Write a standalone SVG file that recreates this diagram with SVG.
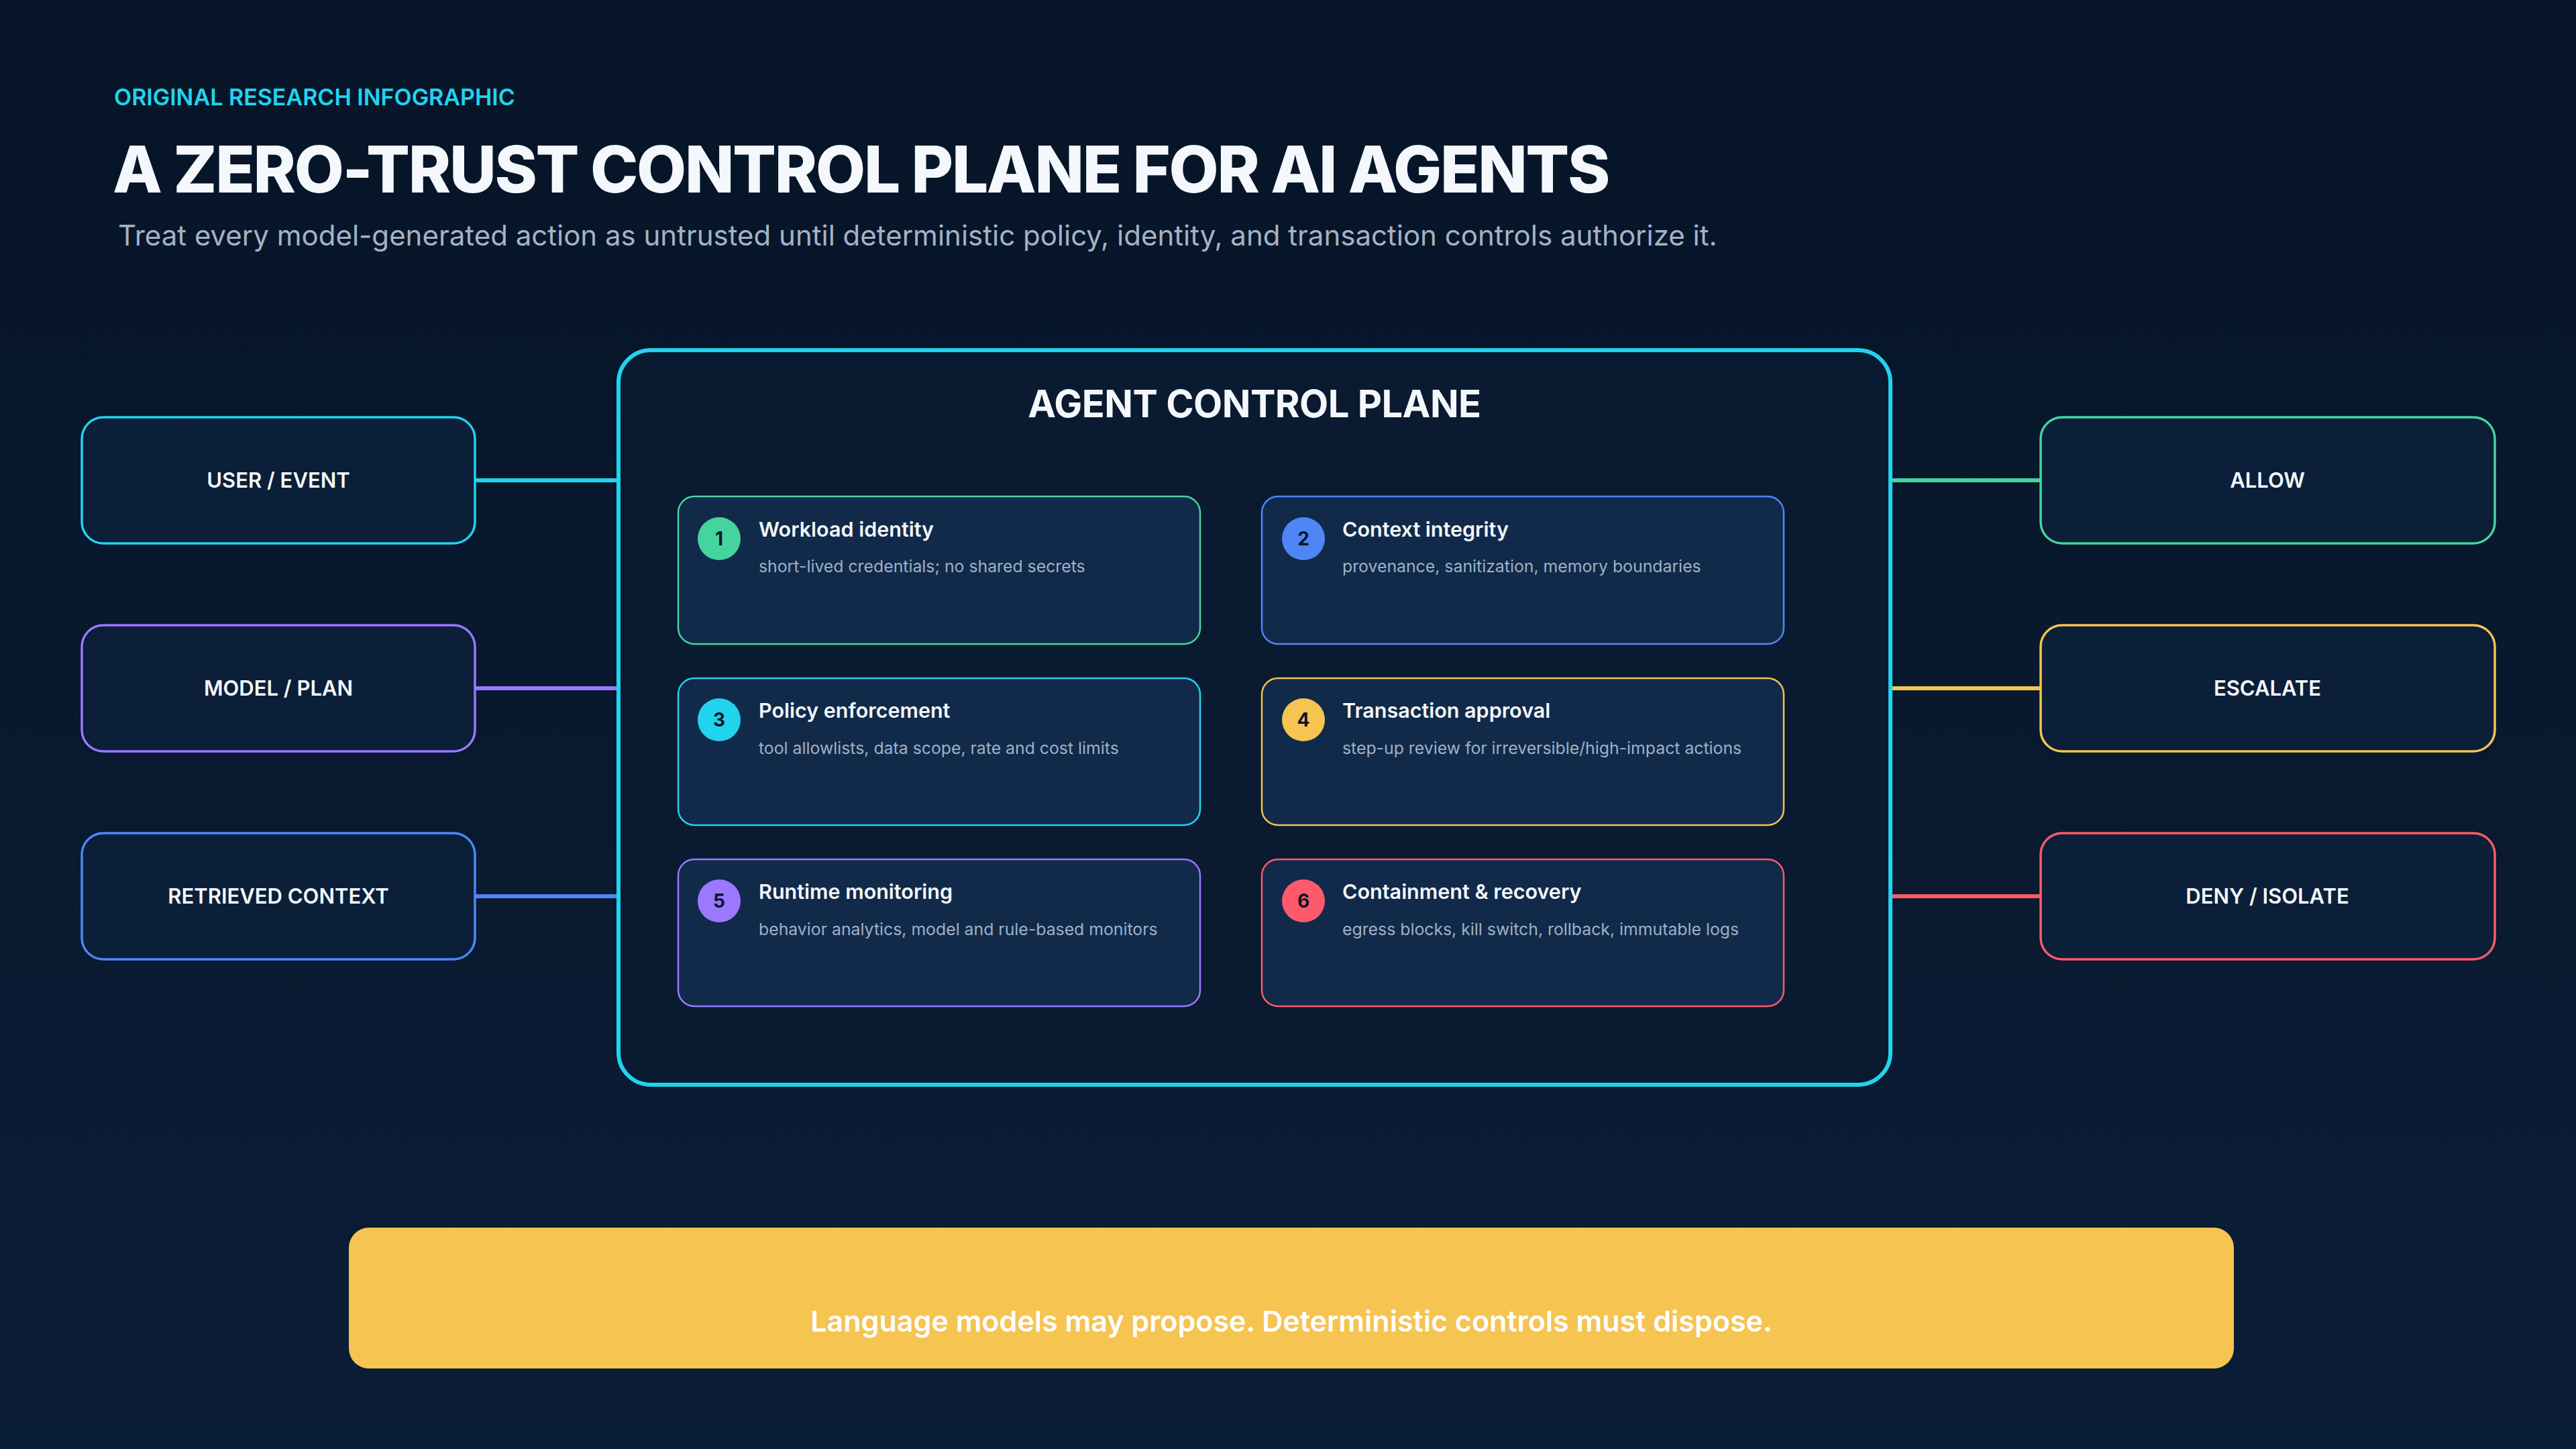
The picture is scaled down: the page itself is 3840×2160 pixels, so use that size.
<svg xmlns="http://www.w3.org/2000/svg" width="3840" height="2160" viewBox="0 0 3840 2160">
  <defs>
    <linearGradient id="bg" x1="0" y1="0" x2="0" y2="1">
      <stop offset="0" stop-color="#061427"/>
      <stop offset="1" stop-color="#0b1e37"/>
    </linearGradient>
    <style>
      .node { fill: #0b1f38; stroke-width: 3.5; }
      .nlabel { font-family: Inter, "Noto Sans", sans-serif; font-weight: 600; font-size: 31px; fill: #f4f7fb; text-anchor: middle; }
      .card { fill: #112a4a; stroke-width: 2.5; }
      .ctitle { font-family: Inter, "Noto Sans", sans-serif; font-weight: 600; font-size: 30.5px; fill: #f4f7fb; }
      .csub { font-family: Inter, "Noto Sans", sans-serif; font-weight: 400; font-size: 24.8px; fill: #9fb0c7; }
      .badge-num { font-family: Inter, "Noto Sans", sans-serif; font-weight: 700; font-size: 28px; fill: #0a1628; text-anchor: middle; }
      .conn { stroke-width: 6; fill: none; }
      .cyan { stroke: #22d3ee; }
      .purple { stroke: #9b78ff; }
      .blue { stroke: #4f86f7; }
      .green { stroke: #45d49e; }
      .yellow { stroke: #f5c451; }
      .red { stroke: #ff5a6b; }
    </style>
  </defs>

  <rect x="0" y="0" width="3840" height="2160" fill="url(#bg)"/>

  <!-- Header -->
  <g id="header">
    <text x="170" y="157" font-family="Inter, 'Noto Sans', sans-serif" font-weight="600" font-size="34" fill="#22d3ee">ORIGINAL RESEARCH INFOGRAPHIC</text>
    <text x="168" y="287" font-family="Inter, 'Noto Sans', sans-serif" font-weight="800" font-size="96" fill="#f4f7fb" letter-spacing="-2.3">A ZERO-TRUST CONTROL PLANE FOR AI AGENTS</text>
    <text x="176" y="366" font-family="Inter, 'Noto Sans', sans-serif" font-weight="400" font-size="42" fill="#a6b2c4">Treat every model-generated action as untrusted until deterministic policy, identity, and transaction controls authorize it.</text>
  </g>

  <!-- Connectors -->
  <g id="connectors">
    <line class="conn cyan" x1="708" y1="716" x2="922" y2="716"/>
    <line class="conn purple" x1="708" y1="1026" x2="922" y2="1026"/>
    <line class="conn blue" x1="708" y1="1336" x2="922" y2="1336"/>
    <line class="conn green" x1="2818" y1="716" x2="3042" y2="716"/>
    <line class="conn yellow" x1="2818" y1="1026" x2="3042" y2="1026"/>
    <line class="conn red" x1="2818" y1="1336" x2="3042" y2="1336"/>
  </g>

  <!-- Input nodes -->
  <g id="node-user-event">
    <rect class="node cyan" x="122" y="622" width="586" height="188" rx="32"/>
    <text class="nlabel" x="415" y="727">USER / EVENT</text>
  </g>
  <g id="node-model-plan">
    <rect class="node purple" x="122" y="932" width="586" height="188" rx="32"/>
    <text class="nlabel" x="415" y="1037">MODEL / PLAN</text>
  </g>
  <g id="node-retrieved-context">
    <rect class="node blue" x="122" y="1242" width="586" height="188" rx="32"/>
    <text class="nlabel" x="415" y="1347">RETRIEVED CONTEXT</text>
  </g>

  <!-- Control plane -->
  <g id="node-control-plane">
    <rect x="922" y="522" width="1896" height="1095" rx="48" fill="#0a1a30" stroke="#22d3ee" stroke-width="6"/>
    <text x="1870" y="622" font-family="Inter, 'Noto Sans', sans-serif" font-weight="700" font-size="56" fill="#f4f7fb" text-anchor="middle" letter-spacing="-0.5">AGENT CONTROL PLANE</text>
  </g>

  <g id="card-1">
    <rect class="card green" x="1011" y="740" width="778" height="220" rx="24"/>
    <circle cx="1072" cy="803" r="32" fill="#45d49e"/>
    <text class="badge-num" x="1072" y="813">1</text>
    <text class="ctitle" x="1131" y="800">Workload identity</text>
    <text class="csub" x="1131" y="853">short-lived credentials; no shared secrets</text>
  </g>
  <g id="card-2">
    <rect class="card blue" x="1881" y="740" width="778" height="220" rx="24"/>
    <circle cx="1943" cy="803" r="32" fill="#4f86f7"/>
    <text class="badge-num" x="1943" y="813">2</text>
    <text class="ctitle" x="2001" y="800">Context integrity</text>
    <text class="csub" x="2001" y="853">provenance, sanitization, memory boundaries</text>
  </g>
  <g id="card-3">
    <rect class="card cyan" x="1011" y="1011" width="778" height="219" rx="24"/>
    <circle cx="1072" cy="1073" r="32" fill="#22d3ee"/>
    <text class="badge-num" x="1072" y="1083">3</text>
    <text class="ctitle" x="1131" y="1070">Policy enforcement</text>
    <text class="csub" x="1131" y="1124">tool allowlists, data scope, rate and cost limits</text>
  </g>
  <g id="card-4">
    <rect class="card yellow" x="1881" y="1011" width="778" height="219" rx="24"/>
    <circle cx="1943" cy="1073" r="32" fill="#f5c451"/>
    <text class="badge-num" x="1943" y="1083">4</text>
    <text class="ctitle" x="2001" y="1070">Transaction approval</text>
    <text class="csub" x="2001" y="1124">step-up review for irreversible/high-impact actions</text>
  </g>
  <g id="card-5">
    <rect class="card purple" x="1011" y="1281" width="778" height="219" rx="24"/>
    <circle cx="1072" cy="1343" r="32" fill="#9b78ff"/>
    <text class="badge-num" x="1072" y="1353">5</text>
    <text class="ctitle" x="1131" y="1340">Runtime monitoring</text>
    <text class="csub" x="1131" y="1394">behavior analytics, model and rule-based monitors</text>
  </g>
  <g id="card-6">
    <rect class="card red" x="1881" y="1281" width="778" height="219" rx="24"/>
    <circle cx="1943" cy="1343" r="32" fill="#ff5a6b"/>
    <text class="badge-num" x="1943" y="1353">6</text>
    <text class="ctitle" x="2001" y="1340">Containment &amp; recovery</text>
    <text class="csub" x="2001" y="1394">egress blocks, kill switch, rollback, immutable logs</text>
  </g>

  <!-- Output nodes -->
  <g id="node-allow">
    <rect class="node green" x="3042" y="622" width="677" height="188" rx="32"/>
    <text class="nlabel" x="3380" y="727">ALLOW</text>
  </g>
  <g id="node-escalate">
    <rect class="node yellow" x="3042" y="932" width="677" height="188" rx="32"/>
    <text class="nlabel" x="3380" y="1037">ESCALATE</text>
  </g>
  <g id="node-deny">
    <rect class="node red" x="3042" y="1242" width="677" height="188" rx="32"/>
    <text class="nlabel" x="3380" y="1347">DENY / ISOLATE</text>
  </g>

  <!-- Banner -->
  <g id="banner">
    <rect x="520" y="1830" width="2810" height="210" rx="30" fill="#f5c451"/>
    <text x="1925" y="1985" font-family="Inter, 'Noto Sans', sans-serif" font-weight="600" font-size="43" fill="#ffffff" text-anchor="middle">Language models may propose. Deterministic controls must dispose.</text>
  </g>
</svg>
